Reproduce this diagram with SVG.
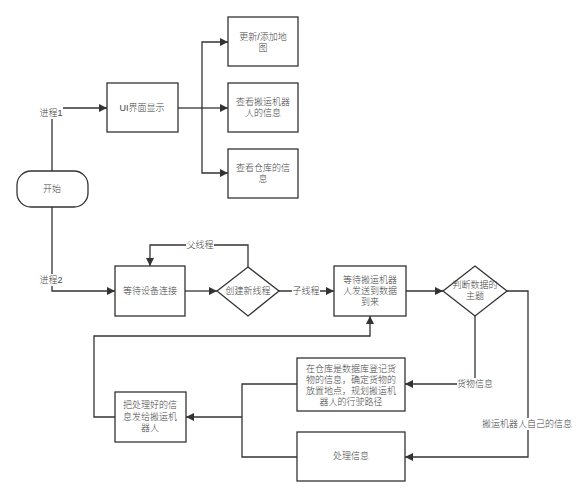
<svg xmlns="http://www.w3.org/2000/svg" width="584" height="499" viewBox="0 0 584 499">
<defs>
<marker id="arr" viewBox="0 0 10 10" refX="10" refY="5" markerWidth="8" markerHeight="8" markerUnits="userSpaceOnUse" orient="auto">
<path d="M0,0 L10,5 L0,10 z" fill="#333"/>
</marker>
<style>
.n{fill:#fff;stroke:#333;stroke-width:1.3}
.t{font-family:"Liberation Sans","Noto Sans CJK SC",sans-serif;font-size:9px;font-weight:300;fill:#444;text-anchor:middle;dominant-baseline:central}
.e{fill:none;stroke:#333;stroke-width:1.3;marker-end:url(#arr)}
.l{fill:none;stroke:#333;stroke-width:1.3}
.bg{fill:#fff}
</style>
</defs>
<rect width="584" height="499" fill="#fff"/>
<g id="connectors">
<path class="e" d="M52,171 V108 H107"/>
<path class="l" d="M178,108 H202"/>
<path class="e" d="M202,108 V42 H228"/>
<path class="e" d="M202,108 H228"/>
<path class="e" d="M202,108 V173 H228"/>
<path class="e" d="M52,207 V291 H115"/>
<path class="e" d="M185,291 H217"/>
<path class="e" d="M248,267 V245 H150 V266"/>
<path class="e" d="M279,291 H334"/>
<path class="e" d="M406,291 H443"/>
<path class="e" d="M475,316 V384 H405"/>
<path class="e" d="M507,291 H528 V457 H405"/>
<path class="l" d="M297,384 H242 V457 H297"/>
<path class="e" d="M242,417 H186"/>
<path class="e" d="M115,417 H94 V336 H370 V316"/>
<rect class="bg" x="39" y="107" width="24" height="12"/>
<text class="t" x="51" y="113">进程1</text>
<rect class="bg" x="39" y="274" width="24" height="12"/>
<text class="t" x="51" y="280">进程2</text>
<rect class="bg" x="186" y="239" width="28" height="12"/>
<text class="t" x="200" y="245">父线程</text>
<rect class="bg" x="292" y="285" width="28" height="12"/>
<text class="t" x="306" y="291">子线程</text>
<rect class="bg" x="457" y="378" width="37" height="12"/>
<text class="t" x="475" y="384">货物信息</text>
<rect class="bg" x="481" y="418" width="92" height="12"/>
<text class="t" x="527" y="424">搬运机器人自己的信息</text>
</g>
<g id="start"><rect class="n" x="17" y="171" width="71" height="36" rx="14" ry="14"/><text class="t" x="52" y="189">开始</text></g>
<g id="ui"><rect class="n" x="107" y="83" width="71" height="49"/><text class="t" x="142" y="108">UI界面显示</text></g>
<g id="map"><rect class="n" x="228" y="17" width="70" height="49"/><text class="t" x="263" y="37">更新/添加地</text><text class="t" x="263" y="48">图</text></g>
<g id="robotinfo"><rect class="n" x="228" y="83" width="70" height="49"/><text class="t" x="263" y="102">查看搬运机器</text><text class="t" x="263" y="113">人的信息</text></g>
<g id="wareinfo"><rect class="n" x="228" y="149" width="70" height="49"/><text class="t" x="263" y="168">查看仓库的信</text><text class="t" x="263" y="179">息</text></g>
<g id="waitdev"><rect class="n" x="115" y="266" width="70" height="50"/><text class="t" x="150" y="291">等待设备连接</text></g>
<g id="newthread"><path class="n" d="M248,267 L279,291 L248,316 L217,291 z"/><text class="t" x="248" y="291">创建新线程</text></g>
<g id="waitdata"><rect class="n" x="334" y="266" width="72" height="50"/><text class="t" x="370" y="280">等待搬运机器</text><text class="t" x="370" y="291">人发送到数据</text><text class="t" x="370" y="302">到来</text></g>
<g id="judge"><path class="n" d="M475,266 L507,291 L475,316 L443,291 z"/><text class="t" x="475" y="285">判断数据的</text><text class="t" x="475" y="296">主题</text></g>
<g id="goods"><rect class="n" x="297" y="358" width="108" height="53"/><text class="t" x="351" y="369">在仓库是数据库登记货</text><text class="t" x="351" y="380">物的信息，确定货物的</text><text class="t" x="351" y="391">放置地点，规划搬运机</text><text class="t" x="351" y="402">器人的行驶路径</text></g>
<g id="process"><rect class="n" x="297" y="432" width="108" height="49"/><text class="t" x="351" y="456">处理信息</text></g>
<g id="send"><rect class="n" x="115" y="392" width="71" height="50"/><text class="t" x="150" y="405">把处理好的信</text><text class="t" x="150" y="417">息发给搬运机</text><text class="t" x="150" y="428">器人</text></g>
</svg>
